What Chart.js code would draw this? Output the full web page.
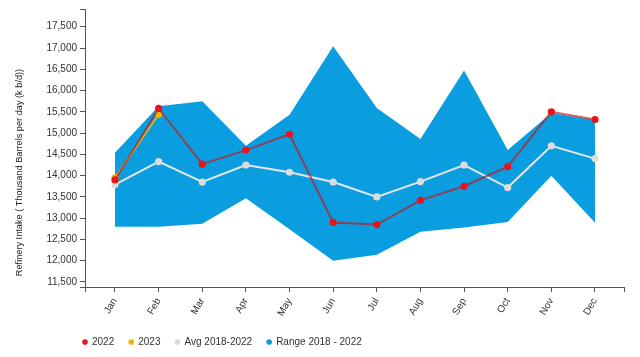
<!DOCTYPE html>
<html>
<head>
<meta charset="utf-8">
<script src="https://cdn.jsdelivr.net/npm/chart.js@4"></script>
<style>
html,body{margin:0;padding:0;background:#fff;}
#wrap{width:640px;height:357px;position:relative;}
</style>
</head>
<body>
<div id="wrap"><canvas id="c" width="640" height="357"></canvas></div>
<script>
const months = ["Jan","Feb","Mar","Apr","May","Jun","Jul","Aug","Sep","Oct","Nov","Dec"];
const y2022 = [13900,15580,14270,14600,14970,12900,12850,13420,13750,14210,15500,15320];
const y2023 = [13950,15440];
const avg = [13790,14330,13850,14250,14080,13850,13500,13860,14250,13720,14700,14400];
const rangeMax = [14540,15630,15750,14700,15430,17040,15590,14860,16470,14600,15470,15310];
const rangeMin = [12800,12800,12870,13470,12740,12000,12140,12680,12780,12910,14000,12890];
const yTicks = [11500,12000,12500,13000,13500,14000,14500,15000,15500,16000,16500,17000,17500];
const yTitle = "Refinery Intake ( Thousand Barrels per day (k b/d))";

const X_MIN = -0.6875, X_MAX = 11.665;
const Y_MIN = 11382, Y_MAX = 17917;

const pts = arr => arr.map((v,i)=>({x:i,y:v}));
const axisColor = '#555';
const textColor = '#333';
const FONT = "'Liberation Sans', Arial, sans-serif";

const titlePlugin = {
  id:'yTitleDraw',
  afterDraw(chart){
    const ctx = chart.ctx;
    ctx.save();
    ctx.translate(19.5,172.5);
    ctx.rotate(-Math.PI/2);
    ctx.font = "9.2px " + FONT;
    ctx.fillStyle = '#222';
    ctx.textAlign = 'center';
    ctx.textBaseline = 'middle';
    ctx.fillText(yTitle,0,0);
    ctx.restore();
  }
};
const legendPos = {
  id:'legendPos',
  afterLayout(chart){
    const lg = chart.legend;
    lg.left = 68;
    lg.top = 322;
  }
};

new Chart(document.getElementById('c'), {
  type:'line',
  data:{
    datasets:[
      {label:'2022', data:pts(y2022), borderColor:'rgba(200,20,25,0.68)', backgroundColor:'#e8141c',
       pointBackgroundColor:'#e8141c', pointBorderWidth:0, borderWidth:2, pointRadius:3.6, fill:false, tension:0},
      {label:'2023', data:pts(y2023), borderColor:'rgba(250,185,0,0.8)', backgroundColor:'#f7b500',
       pointBackgroundColor:'#f7b500', pointBorderWidth:0, borderWidth:2, pointRadius:3.6, fill:false, tension:0},
      {label:'Avg 2018-2022', data:pts(avg), borderColor:'#e6e6e6', backgroundColor:'#d8d8d8',
       pointBackgroundColor:'#dcdcdc', pointBorderWidth:0, borderWidth:2, pointRadius:3.6, fill:false, tension:0},
      {label:'Range 2018 - 2022', data:pts(rangeMax), borderColor:'#0a9ee0', backgroundColor:'#0a9ee0',
       borderWidth:0, pointRadius:0, fill:'+1', tension:0},
      {label:'rangeMin', data:pts(rangeMin), borderColor:'#0a9ee0', backgroundColor:'#0a9ee0',
       borderWidth:0, pointRadius:0, fill:false, tension:0}
    ]
  },
  options:{
    responsive:false,
    animation:false,
    events:[],
    layout:{padding:{top:9,right:16,left:0,bottom:0}},
    plugins:{
      tooltip:{enabled:false},
      legend:{
        position:'bottom', align:'start',
        labels:{
          usePointStyle:true, boxWidth:4, boxHeight:4, padding:15,
          color:textColor, font:{size:10, family:FONT},
          generateLabels(chart){
            return chart.data.datasets.slice(0,4).map((d,i)=>({
              text:d.label, fillStyle:d.backgroundColor, strokeStyle:d.backgroundColor,
              lineWidth:0, pointStyle:'circle', datasetIndex:i, hidden:false, fontColor:textColor
            }));
          }
        }
      }
    },
    scales:{
      x:{
        type:'linear', min:X_MIN, max:X_MAX,
        afterBuildTicks(scale){
          scale.ticks = [X_MIN].concat(months.map((m,i)=>i)).concat([X_MAX]).map(v=>({value:v}));
        },
        afterFit(scale){
          scale.height = 357 - 287 - scale.chart.legend.height;
        },
        ticks:{
          autoSkip:false, minRotation:60, maxRotation:60, padding:4,
          color:textColor, font:{size:10, family:FONT},
          callback(v){ return (Number.isInteger(v) && v>=0 && v<12) ? months[v] : ''; }
        },
        grid:{drawOnChartArea:false, drawTicks:true, tickLength:5, color:axisColor},
        border:{color:axisColor, width:1}
      },
      y:{
        type:'linear', min:Y_MIN, max:Y_MAX,
        afterBuildTicks(scale){
          scale.ticks = [Y_MIN].concat(yTicks).concat([Y_MAX]).map(v=>({value:v}));
        },
        afterFit(scale){ scale.width = 85; },
        ticks:{
          autoSkip:false, padding:3, color:textColor, font:{size:10, family:FONT},
          callback(v){ return yTicks.includes(v) ? v.toLocaleString('en-US') : ''; }
        },
        grid:{drawOnChartArea:false, drawTicks:true, tickLength:5, color:axisColor},
        border:{color:axisColor, width:1}
      }
    }
  },
  plugins:[titlePlugin, legendPos]
});
</script>
</body>
</html>
